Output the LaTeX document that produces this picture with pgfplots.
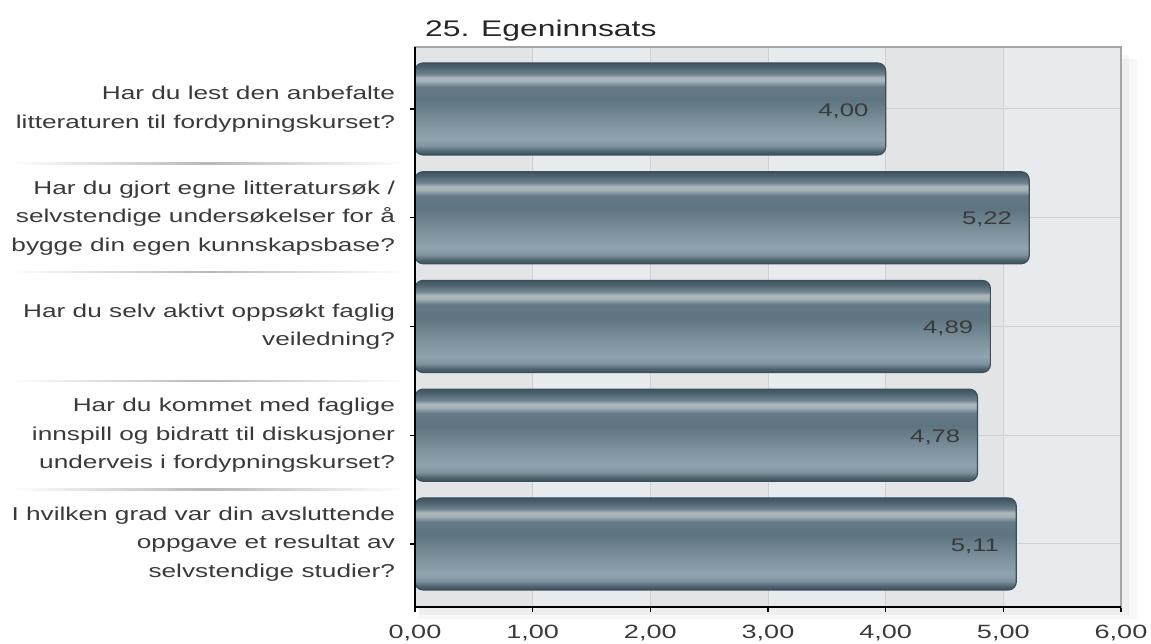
\documentclass[border=0pt]{standalone}
\usepackage{pgfplots}
\pgfplotsset{compat=1.18}
\usepackage{fontspec}
\setmainfont{Liberation Sans}[FakeStretch=1.41]
\definecolor{txt}{HTML}{3A3A3A}
\definecolor{bandA}{HTML}{E3E4E6}
\definecolor{bandB}{HTML}{E8EBEE}
\definecolor{gridc}{HTML}{D0D1D3}
\definecolor{s0}{HTML}{3A505C}
\definecolor{s1}{HTML}{4D6470}
\definecolor{s2}{HTML}{7F949F}
\definecolor{s3}{HTML}{8FA4AF}
\definecolor{s4}{HTML}{7D929D}
\definecolor{s5}{HTML}{5E7480}
\definecolor{s6}{HTML}{657A86}
\definecolor{s7}{HTML}{A3B1B8}
\definecolor{s8}{HTML}{ADB8BE}
\definecolor{s9}{HTML}{6F838E}
\definecolor{s10}{HTML}{4E6470}
\definecolor{s11}{HTML}{3E5461}
\definecolor{barline}{HTML}{3B505C}
\pgfdeclareverticalshading{barshade}{100bp}{
  color(0bp)=(s0); color(25bp)=(s0); color(27bp)=(s1); color(30bp)=(s2);
  color(33.5bp)=(s3); color(42.5bp)=(s4); color(55bp)=(s5); color(62bp)=(s6);
  color(65bp)=(s7); color(67bp)=(s8); color(69bp)=(s9); color(72.5bp)=(s10);
  color(75bp)=(s11); color(100bp)=(s11)}
\pgfplotsset{
  mybar/.style={xbar, bar shift=0pt, shade, shading=barshade, draw=barline, line width=0.6pt, rounded corners=4pt,
    point meta=x,
    nodes near coords={\pgfmathprintnumber[fixed,fixed zerofill,precision=2,use comma]{\pgfplotspointmeta}},
    nodes near coords style={anchor=east, xshift=-5pt, yshift=-1pt, text=txt, font=\fontsize{9.1}{11}\selectfont}}
}
\begin{document}
\begin{tikzpicture}
\begin{axis}[
  set layers=standard,
  xbar,
  width=353pt, height=280pt, scale only axis,
  xmin=0, xmax=6, ymin=-0.57, ymax=4.58, y dir=reverse,
  xtick={0,1,2,3,4,5,6}, ytick={0,1,2,3,4},
  yticklabels={
    {Har du lest den anbefalte\\litteraturen til fordypningskurset?},
    {Har du gjort egne litteratursøk /\\selvstendige undersøkelser for å\\bygge din egen kunnskapsbase?},
    {Har du selv aktivt oppsøkt faglig\\veiledning?},
    {Har du kommet med faglige\\innspill og bidratt til diskusjoner\\underveis i fordypningskurset?},
    {I hvilken grad var din avsluttende\\oppgave et resultat av\\selvstendige studier?}},
  yticklabel style={align=right, font=\fontsize{9.3}{14.25}\selectfont, text=txt, xshift=-4pt},
  xticklabel style={font=\fontsize{9.6}{11}\selectfont, text=txt, yshift=-3pt,
    /pgf/number format/.cd, fixed, fixed zerofill, precision=2, use comma},
  /pgf/number format/assume math mode=true,
  bar width=46pt,
  tick align=outside, xtick pos=bottom, ytick pos=left,
  major tick length=2.5pt,
  tick style={black, line width=0.6pt},
  grid=major, major grid style={gridc, line width=0.5pt},
  axis line style={draw=gray!70, line width=0.6pt},
  clip=false,
]
\begin{pgfonlayer}{axis background}
  \fill[black, opacity=0.03] ([xshift=2pt,yshift=-6pt]rel axis cs:0,1) rectangle ([xshift=8pt,yshift=-6pt]rel axis cs:1,0);
  \fill[black, opacity=0.03] ([xshift=2pt,yshift=-4pt]rel axis cs:0,1) rectangle ([xshift=4pt,yshift=-4pt]rel axis cs:1,0);
  \fill[bandA] (axis cs:0,-0.57) rectangle (axis cs:1,4.58);
  \fill[bandB] (axis cs:1,-0.57) rectangle (axis cs:2,4.58);
  \fill[bandA] (axis cs:2,-0.57) rectangle (axis cs:3,4.58);
  \fill[bandB] (axis cs:3,-0.57) rectangle (axis cs:4,4.58);
  \fill[bandA] (axis cs:4,-0.57) rectangle (axis cs:5,4.58);
  \fill[bandB] (axis cs:5,-0.57) rectangle (axis cs:6,4.58);
\end{pgfonlayer}
\addplot[mybar] coordinates {(4.00,0)};
\addplot[mybar] coordinates {(5.22,1)};
\addplot[mybar] coordinates {(4.89,2)};
\addplot[mybar] coordinates {(4.78,3)};
\addplot[mybar] coordinates {(5.11,4)};
\begin{pgfonlayer}{axis foreground}
  \draw[black, line width=1pt] (rel axis cs:0,1) -- (rel axis cs:0,0) -- (rel axis cs:1,0);
\end{pgfonlayer}
\foreach \yy in {0.5,1.5,2.5,3.5}{
  \edef\tmp{\noexpand\shade[left color=white, right color=white, middle color=gray!55]
    ([xshift=-203pt,yshift=-0.35pt]axis cs:0,\yy) rectangle ([xshift=-4pt,yshift=0.35pt]axis cs:0,\yy);}
  \tmp
}
\node[anchor=base west, font=\fontsize{11.3}{14}\selectfont, text=black!85] at ([xshift=1.5pt,yshift=5pt]rel axis cs:0,1) {25. Egeninnsats};
\coordinate (bbl) at ([xshift=-207.5pt,yshift=-18pt]rel axis cs:0,0);
\coordinate (btr) at ([xshift=15pt,yshift=23.5pt]rel axis cs:1,1);
\end{axis}
\pgfresetboundingbox
\path (bbl) rectangle (btr);
\end{tikzpicture}
\end{document}
